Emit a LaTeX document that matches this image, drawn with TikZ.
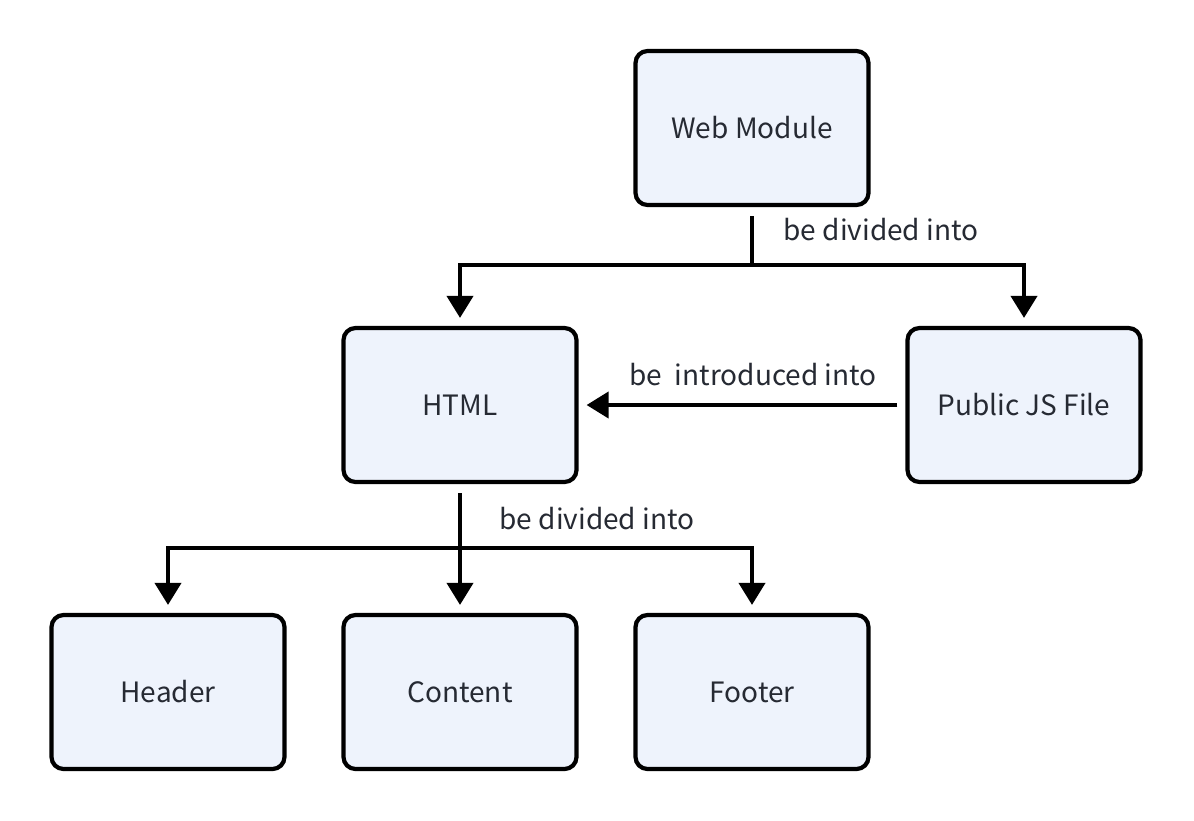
\documentclass[tikz,border=0pt]{standalone}
\usepackage{fontspec}
\setmainfont{Noto Sans CJK SC}
\usetikzlibrary{arrows.meta}
\definecolor{boxfill}{HTML}{EEF3FC}
\definecolor{boxtext}{HTML}{262A33}

\begin{document}
\begin{tikzpicture}[>={Triangle[length=11pt,width=13pt]},x=0.5pt,y=-0.5pt,
    module/.style={draw=black,line width=2.1pt,rounded corners=6pt,
        fill=boxfill,text=boxtext,minimum width=116.5pt,minimum height=77pt,
        font=\fontsize{14}{16}\selectfont},
    link/.style={line width=2pt},
    linklabel/.style={text=boxtext,font=\fontsize{14}{16}\selectfont}]
                \useasboundingbox (0, 0) rectangle (1194, 820);

                % boxes
                \node[module] (web) at (752, 128) {Web Module};
                \node[module] (html) at (460, 405) {HTML};
                \node[module] (pubjs) at (1024, 405) {Public JS File};
                \node[module] (header) at (168, 692) {Header};
                \node[module] (content) at (460, 692) {Content};
                \node[module] (footer) at (752, 692) {Footer};

                % web module split
                \coordinate (websplit) at (752, 265);
                \draw[link,shorten <=4.5pt] (web.south) -- (websplit);
                \draw[link,->,shorten >=4pt] (websplit) -| (html.north);
                \draw[link,->,shorten >=4pt] (websplit) -| (pubjs.north);
                \node[linklabel] (weblabel) at (881, 230) {be divided into};

                % js into html
                \draw[link,->,shorten <=4pt,shorten >=4pt] (pubjs.west) -- (html.east);
                \node[linklabel] (jslabel) at (753, 375) {be\ \ introduced into};

                % html split
                \coordinate (htmlsplit) at (460, 548);
                \draw[link,shorten <=4.5pt,->,shorten >=4pt] (html.south) -- (content.north);
                \draw[link,->,shorten >=4pt] (htmlsplit) -| (header.north);
                \draw[link,->,shorten >=4pt] (htmlsplit) -| (footer.north);
                \node[linklabel] (htmllabel) at (597, 519) {be divided into};
            \end{tikzpicture}
\end{document}
